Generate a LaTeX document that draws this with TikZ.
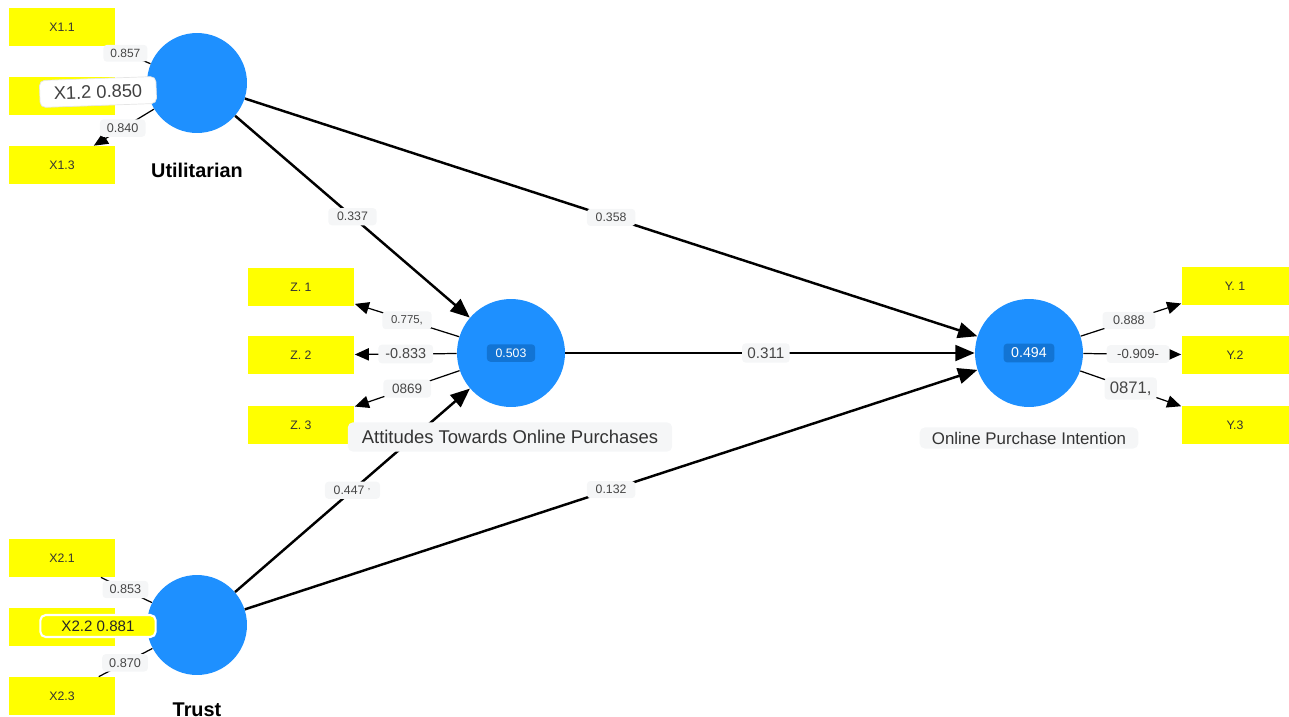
\documentclass[tikz,border=0pt]{standalone}
\usepackage{fontspec}
\setmainfont{Liberation Sans}
\usetikzlibrary{arrows.meta}

\definecolor{lvblue}{RGB}{30,144,255}
\definecolor{lvinner}{RGB}{18,116,212}
\definecolor{itemyellow}{RGB}{255,255,0}
\definecolor{tagfill}{RGB}{245,246,247}
\definecolor{tagtext}{RGB}{70,70,70}

\begin{document}
\begin{tikzpicture}[x=0.02cm, y=-0.02cm,
        item/.style={fill=itemyellow, minimum width=2.14cm, minimum height=0.76cm,
            inner sep=0pt, text=black!80, font=\fontsize{7}{8}\selectfont},
        latent/.style={circle, fill=lvblue, minimum size=2cm, inner sep=0pt},
        wide/.style={minimum size=2.16cm},
        rsq/.style={fill=lvinner, rounded corners=2pt, text=white, inner xsep=5pt, inner ysep=2.5pt},
        coef/.style={fill=tagfill, rounded corners=2pt, text=tagtext, inner xsep=5pt,
            inner ysep=2.4pt, font=\fontsize{7}{8}\selectfont},
        lvname/.style={fill=tagfill, rounded corners=3pt, text=black!80},
        structural/.style={-{Triangle[length=11pt,width=9pt]}, line width=1.4pt},
        loading/.style={-{Triangle[length=8pt,width=7pt]}, line width=0.7pt}]
    \useasboundingbox (0,0) rectangle (1289,717);

    % indicator boxes
    \node[item] (x11) at (62,27) {X1.1};
    \node[item] (x12) at (62,96) {};
    \node[item] (x13) at (62,165) {X1.3};
    \node[item] (x21) at (62,558) {X2.1};
    \node[item] (x22) at (62,627) {};
    \node[item] (x23) at (62,696) {X2.3};
    \node[item] (z1) at (301,287) {Z. 1};
    \node[item] (z2) at (301,355) {Z. 2};
    \node[item] (z3) at (301,425) {Z. 3};
    \node[item] (y1) at (1235,286) {Y. 1};
    \node[item] (y2) at (1235,355) {Y.2};
    \node[item] (y3) at (1235,425) {Y.3};

    % latent variables
    \node[latent] (util) at (197,83) {};
    \node[latent] (trust) at (197,625) {};
    \node[latent, wide] (att) at (511,353) {};
    \node[latent, wide] (opi) at (1029,353) {};
    \node[rsq, font=\fontsize{7}{8}\selectfont] (attr2) at (att) {0.503};
    \node[rsq, inner xsep=4.3pt, font=\fontsize{8.1}{9}\selectfont] (opir2) at (opi) {0.494};

    % inner model
    \draw[structural] (util) -- node[coef] {0.337} (att);
    \draw[structural] (util) -- node[coef] {0.358} (opi);
    \draw[structural] (att) -- node[coef, pos=0.49, font=\fontsize{8.7}{10}\selectfont, inner xsep=3pt] {0.311} (opi);
    \draw[structural] (trust) -- node[coef] {0.447 \textsuperscript{,}} (att);
    \draw[structural] (trust) -- node[coef] {0.132} (opi);

    % outer model
    \draw[loading] (util) -- node[coef, pos=0.6, inner xsep=4pt, font=\fontsize{6.8}{8}\selectfont] {0.857} (x11);
    \draw[loading] (util) -- (x12);
    \draw[loading] (util) -- node[coef, pos=0.52, inner xsep=4pt, font=\fontsize{7.2}{8}\selectfont] {0.840} (x13);
    \draw[loading, -] (trust) -- node[coef, pos=0.52, inner xsep=4pt, font=\fontsize{7.2}{8}\selectfont] {0.853} (x21);
    \draw[loading] (trust) -- (x22);
    \draw[loading, -] (trust) -- node[coef, pos=0.51, inner xsep=4pt, font=\fontsize{7.2}{8}\selectfont] {0.870} (x23);
    \draw[loading] (att) -- node[coef, font=\fontsize{6.5}{8}\selectfont] {0.775,} (z1);
    \draw[loading] (att) -- node[coef, inner xsep=4pt, font=\fontsize{8.2}{9}\selectfont] {-0.833} (z2);
    \draw[loading] (att) -- node[coef, font=\fontsize{7.7}{9}\selectfont] {0869} (z3);
    \draw[loading] (opi) -- node[coef, pos=0.48, inner xsep=6pt, font=\fontsize{7.2}{8}\selectfont] {0.888} (y1);
    \draw[loading] (opi) -- node[coef, pos=0.56, inner xsep=6pt, font=\fontsize{7.5}{8}\selectfont] {-0.909-} (y2);
    \draw[loading] (opi) -- node[coef, pos=0.5, inner xsep=3pt, font=\fontsize{9.5}{11}\selectfont] {0871,} (y3);

    % tags lying over the middle items
    \node[fill=white, draw=black!10, rounded corners=3pt, rotate=2, text=black!75,
        inner xsep=8pt, inner ysep=4pt, font=\fontsize{10.4}{12}\selectfont] (x12tag) at (98,92) {X1.2 0.850};
    \node[fill=itemyellow, draw=white, line width=1.2pt, rounded corners=3pt, text=black!85,
        inner xsep=12pt, inner ysep=3.2pt, font=\fontsize{8.6}{10}\selectfont] (x22tag) at (98,626) {X2.2 0.881};

    % names
    \node[font=\bfseries\fontsize{11.3}{13}\selectfont] (utilname) at (197,170) {Utilitarian};
    \node[font=\bfseries\fontsize{11.3}{13}\selectfont] (trustname) at (197,710) {Trust};
    \node[lvname, inner xsep=8pt, inner ysep=4.5pt, font=\fontsize{10.5}{12}\selectfont] (attname) at (510,437) {Attitudes Towards Online Purchases};
    \node[lvname, inner xsep=7pt, inner ysep=2.5pt, font=\fontsize{9.6}{11}\selectfont] (opiname) at (1029,438) {Online Purchase Intention};
\end{tikzpicture}
\end{document}
